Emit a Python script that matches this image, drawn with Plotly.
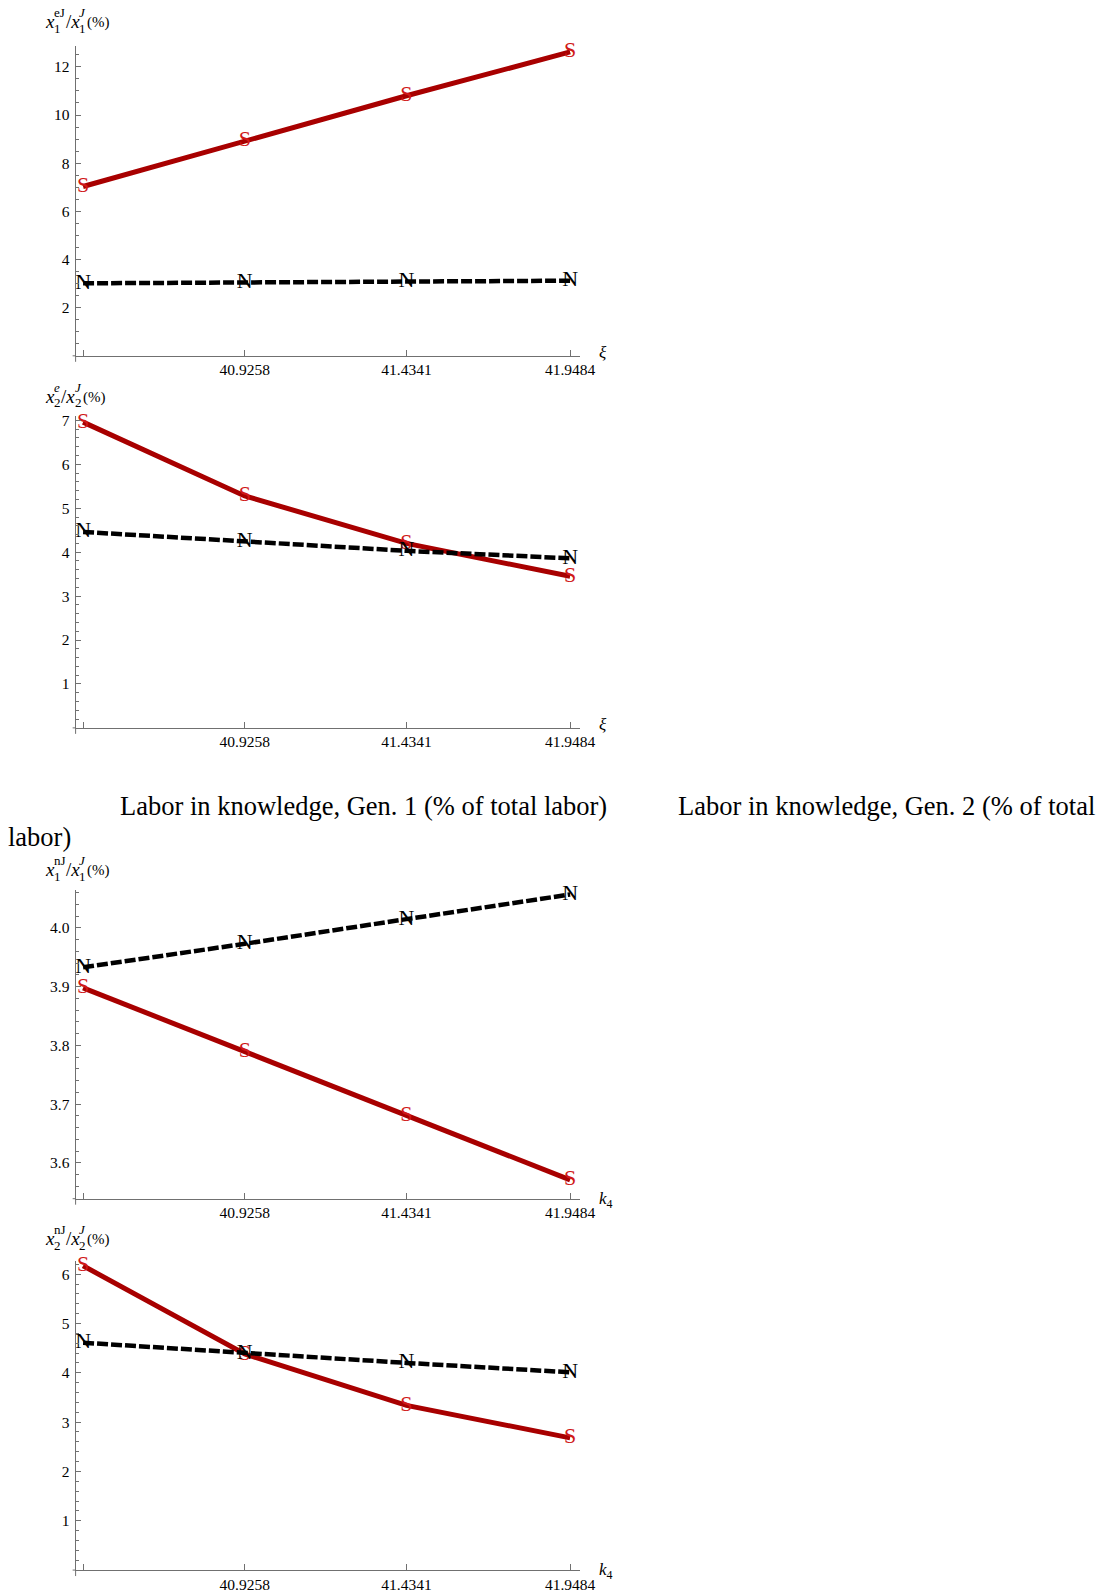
import plotly.graph_objects as go

W, H = 1113, 1596

# ---------------- data ----------------
x_vals = [40.4175, 40.9258, 41.4341, 41.9484]
x_labeled = [40.9258, 41.4341, 41.9484]
x_ticktext = ["40.9258", "41.4341", "41.9484"]

p1_S = [7.03, 8.94, 10.80, 12.62]
p1_N = [3.01, 3.04, 3.08, 3.12]

p2_S = [6.96, 5.28, 4.20, 3.45]
p2_N = [4.46, 4.24, 4.03, 3.86]

p3_S = [3.898, 3.789, 3.680, 3.571]
p3_N = [3.933, 3.973, 4.015, 4.057]

p4_S = [6.17, 4.38, 3.34, 2.68]
p4_N = [4.61, 4.40, 4.20, 4.01]

p1_yticks = [2, 4, 6, 8, 10, 12]
p1_yticktext = ["2", "4", "6", "8", "10", "12"]
p2_yticks = [1, 2, 3, 4, 5, 6, 7]
p2_yticktext = ["1", "2", "3", "4", "5", "6", "7"]
p3_yticks = [3.6, 3.7, 3.8, 3.9, 4.0]
p3_yticktext = ["3.6", "3.7", "3.8", "3.9", "4.0"]
p4_yticks = [1, 2, 3, 4, 5, 6]
p4_yticktext = ["1", "2", "3", "4", "5", "6"]

caption_gen1 = "Labor in knowledge, Gen. 1 (% of total labor)"
caption_gen2a = "Labor in knowledge, Gen. 2 (% of total"
caption_gen2b = "labor)"

# ---------------- styling / layout ----------------
SERIF = "Liberation Serif, Times New Roman, serif"
RED_LINE = "#A80000"
RED_TEXT = "#D01818"
AX = "#707070"

X_LEFT, X_RIGHT = 76.7, 588.3
X_RANGE = [40.394, 41.979]

panels = [
    dict(S=p1_S, N=p1_N, top=42, bottom=352.7, yr=[0, 12.87], tv=p1_yticks, tt=p1_yticktext,
         minor=0.5, sup="eJ", sup_it=False, sub="1", lab_y=18, xt="xi"),
    dict(S=p2_S, N=p2_N, top=413, bottom=725.7, yr=[0, 7.1], tv=p2_yticks, tt=p2_yticktext,
         minor=0.2, sup="e", sup_it=True, sub="2", lab_y=393, xt="xi"),
    dict(S=p3_S, N=p3_N, top=888, bottom=1197.7, yr=[3.539, 4.065], tv=p3_yticks, tt=p3_yticktext,
         minor=0.02, sup="nJ", sup_it=False, sub="1", lab_y=868, xt="k4"),
    dict(S=p4_S, N=p4_N, top=1260, bottom=1570, yr=[0, 6.27], tv=p4_yticks, tt=p4_yticktext,
         minor=0.2, sup="nJ", sup_it=False, sub="2", lab_y=1238, xt="k4"),
]


def px(x):
    return x / W


def py(y):
    return 1 - y / H


fig = go.Figure()
annotations = []
shapes = []


def ann(text, x, y, size, color="black", xanchor="left", yanchor="middle"):
    annotations.append(dict(text=text, x=px(x), y=py(y), xref="paper", yref="paper",
                            showarrow=False, xanchor=xanchor, yanchor=yanchor, borderpad=0,
                            font=dict(family=SERIF, size=size, color=color)))


layout_axes = {}
for i, p in enumerate(panels, start=1):
    xa = "x" if i == 1 else f"x{i}"
    ya = "y" if i == 1 else f"y{i}"
    fig.add_trace(go.Scatter(
        x=x_vals, y=p["S"], mode="lines+text", text=["S"] * len(x_vals),
        textposition="middle center", textfont=dict(family=SERIF, size=22, color=RED_TEXT),
        line=dict(color=RED_LINE, width=5), xaxis=xa, yaxis=ya, cliponaxis=False,
        showlegend=False, hoverinfo="skip"))
    fig.add_trace(go.Scatter(
        x=x_vals, y=p["N"], mode="lines+text", text=["N"] * len(x_vals),
        textposition="middle center", textfont=dict(family=SERIF, size=22, color="black"),
        line=dict(color="black", width=4.5, dash="11px,3px"), xaxis=xa, yaxis=ya, cliponaxis=False,
        showlegend=False, hoverinfo="skip"))

    xkey = "xaxis" if i == 1 else f"xaxis{i}"
    ykey = "yaxis" if i == 1 else f"yaxis{i}"
    layout_axes[xkey] = dict(
        domain=[px(X_LEFT), px(X_RIGHT)], range=X_RANGE, anchor=ya,
        showline=True, linecolor=AX, linewidth=1, showgrid=False, zeroline=False,
        ticks="inside", ticklen=6, tickcolor=AX, tickwidth=1,
        tickmode="array", tickvals=x_labeled, ticktext=x_ticktext,
        minor=dict(ticks="inside", ticklen=6, tickcolor=AX, tickvals=x_vals[:1], showgrid=False),
        tickfont=dict(family=SERIF, size=15.5, color="black"), ticklabelstandoff=0)
    layout_axes[ykey] = dict(
        domain=[py(p["bottom"]), py(p["top"])], range=p["yr"], anchor=xa,
        showline=True, linecolor=AX, linewidth=1, showgrid=False, zeroline=False,
        ticks="inside", ticklen=5, tickcolor=AX, tickwidth=1,
        tickmode="array", tickvals=p["tv"], ticktext=p["tt"],
        minor=dict(ticks="inside", ticklen=3, tickcolor=AX, dtick=p["minor"], tick0=0, showgrid=False),
        tickfont=dict(family=SERIF, size=15.5, color="black"), ticklabelstandoff=2)

    # small axis-line overhangs (axes cross just past the origin)
    shapes.append(dict(type="line", xref="paper", yref="paper",
                       x0=px(X_LEFT), x1=px(X_LEFT), y0=py(p["bottom"]), y1=py(p["bottom"] + 6),
                       line=dict(color=AX, width=1)))
    shapes.append(dict(type="line", xref="paper", yref="paper",
                       x0=px(X_LEFT - 3), x1=px(X_LEFT), y0=py(p["bottom"]), y1=py(p["bottom"]),
                       line=dict(color=AX, width=1)))

    # y-axis label: x_sub^sup / x_sub^J (%)
    ly = p["lab_y"]
    sup = f"<i>{p['sup']}</i>" if p["sup_it"] else p["sup"]
    sup_w = 6.5 if p["sup"] == "e" else 11
    ann("<i>x</i>", 44.5, ly, 19)
    ann(sup, 53.5, ly - 9, 13)
    ann(p["sub"], 53.5, ly + 7, 13)
    x2 = 53.5 + sup_w + 1
    ann("/<i>x</i>", x2, ly, 19)
    ann("<i>J</i>", x2 + 14, ly - 9, 13)
    ann(p["sub"], x2 + 14, ly + 7, 13)
    ann("(%)", x2 + 22, ly + 1, 15)

    # x-axis title at the right end
    if p["xt"] == "xi":
        ann("<i>ξ</i>", 607, p["bottom"] - 3, 17)
    else:
        ann("<i>k</i><sub>4</sub>", 607, p["bottom"] + 1, 17)

# captions (text paragraph between the two groups)
ann(caption_gen1, 121, 804, 26.5)
ann(caption_gen2a, 687, 804, 26.5)
ann(caption_gen2b, 7, 835, 26.5)

fig.update_layout(
    width=W, height=H, autosize=False,
    margin=dict(l=0, r=0, t=0, b=0, pad=0),
    paper_bgcolor="white", plot_bgcolor="white",
    annotations=annotations, shapes=shapes,
    **layout_axes,
)

fig.write_html("out.html", config={"displayModeBar": False},
               post_script="document.body.style.margin='0px';")
